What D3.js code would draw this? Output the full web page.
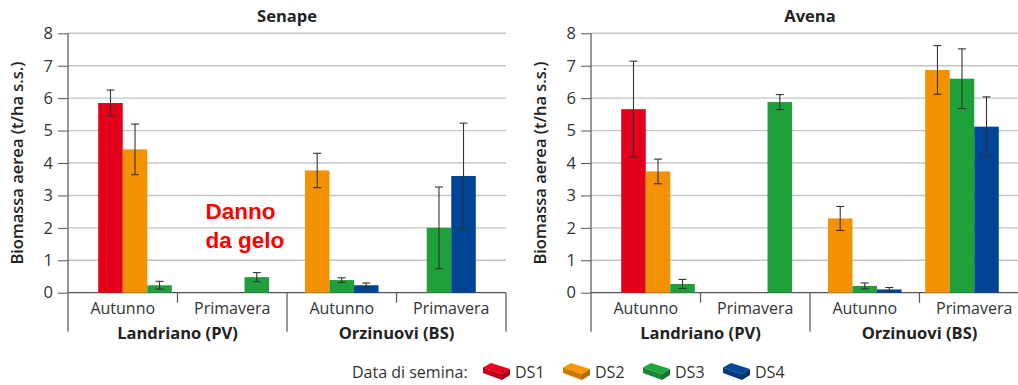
<!DOCTYPE html>
<html>
<head>
<meta charset="utf-8">
<script src="https://cdn.jsdelivr.net/npm/d3@7"></script>
<style>
  body { margin: 0; background: #fff; }
  svg { display: block; font-family: "Open Sans", sans-serif; }
</style>
</head>
<body>
<div id="chart"></div>
<script>
// categories
var seasons = ["Autunno", "Primavera", "Autunno", "Primavera"];
var sites = ["Landriano (PV)", "Orzinuovi (BS)"];
var series = ["DS1", "DS2", "DS3", "DS4"];
var yTicks = [0, 1, 2, 3, 4, 5, 6, 7, 8];

// how bars sit inside each season group ("-" = empty slot)
var groupSlots = [["-", "DS1", "DS2", "DS3"], ["-", "-", "DS3"], ["DS2", "DS3", "DS4"], ["DS2", "DS3", "DS4", "-"]];

// Senape (t/ha s.s.)
var senapeDS1 = [5.85, null, null, null];
var senapeDS2 = [4.42, null, 3.77, null];
var senapeDS3 = [0.23, 0.48, 0.39, 2.0];
var senapeDS4 = [null, null, 0.23, 3.6];
var senapeErr1 = [0.4, null, null, null];
var senapeErr2 = [0.78, null, 0.53, null];
var senapeErr3 = [0.12, 0.14, 0.07, 1.26];
var senapeErr4 = [null, null, 0.07, 1.63];

// Avena (t/ha s.s.)
var avenaDS1 = [5.66, null, null, null];
var avenaDS2 = [3.74, null, 2.29, 6.87];
var avenaDS3 = [0.27, 5.88, 0.21, 6.6];
var avenaDS4 = [null, null, 0.1, 5.12];
var avenaErr1 = [1.48, null, null, null];
var avenaErr2 = [0.38, null, 0.37, 0.75];
var avenaErr3 = [0.14, 0.23, 0.09, 0.92];
var avenaErr4 = [null, null, 0.06, 0.92];

var colors = {DS1: "#e2001a", DS2: "#f39200", DS3: "#1ea03a", DS4: "#004595"};

var svgWidth = 1018, svgHeight = 385;
var plotTop = 33.3, plotH = 259.4, plotW = 438;

var svg = d3.select("#chart").append("svg")
  .attr("width", svgWidth)
  .attr("height", svgHeight);

var y = d3.scaleLinear().domain([0, 8]).range([plotH, 0]);
var x0 = d3.scaleBand().domain(d3.range(seasons.length)).range([0, plotW]);
var barW = x0.bandwidth() * 0.224;

function drawPanel(left, title, vals, errs) {
  var g = svg.append("g").attr("transform", "translate(" + left + "," + plotTop + ")");

  // grid
  g.selectAll("line.grid")
    .data(yTicks.filter(function(d){ return d > 0; }))
    .enter().append("line")
    .attr("x1", 0).attr("x2", plotW)
    .attr("y1", function(d){ return y(d); })
    .attr("y2", function(d){ return y(d); })
    .attr("stroke", "#c4c4c4").attr("stroke-width", 1.4);

  // y axis
  var yAxis = d3.axisLeft(y).tickValues(yTicks).tickSize(10).tickPadding(5);
  var ya = g.append("g").call(yAxis);
  ya.select(".domain").remove();
  ya.selectAll("line").attr("stroke", "#555");
  ya.selectAll("text").attr("font-size", 16.5).attr("fill", "#333")
    .attr("font-family", "Open Sans, sans-serif");
  g.append("line").attr("x1", 0).attr("x2", 0).attr("y1", y(8)).attr("y2", plotH + 39)
    .attr("stroke", "#555").attr("stroke-width", 1.2);
  g.append("line").attr("x1", 0).attr("x2", plotW).attr("y1", plotH).attr("y2", plotH)
    .attr("stroke", "#555").attr("stroke-width", 1.2);

  // bars
  seasons.forEach(function(s, i) {
    var slots = groupSlots[i].map(function(k, j){ return k === "-" ? "blank" + j : k; });
    var gx = x0(i) + x0.bandwidth() / 2;
    var x1 = d3.scaleBand().domain(slots)
      .range([gx - slots.length * barW / 2, gx + slots.length * barW / 2]);
    var rows = series.map(function(name, k) {
      return {name: name, v: vals[k][i], e: errs[k][i]};
    }).filter(function(d){ return d.v != null && slots.indexOf(d.name) >= 0; });

    var bg = g.append("g");
    bg.selectAll("rect").data(rows).enter().append("rect")
      .attr("x", function(d){ return x1(d.name); })
      .attr("y", function(d){ return y(d.v); })
      .attr("width", x1.bandwidth())
      .attr("height", function(d){ return plotH - y(d.v); })
      .attr("fill", function(d){ return colors[d.name]; });

    var eb = bg.selectAll("g.err").data(rows.filter(function(d){ return d.e != null; }))
      .enter().append("g").attr("stroke", "#333").attr("stroke-width", 1.1);
    eb.append("line")
      .attr("x1", function(d){ return x1(d.name) + x1.bandwidth() / 2; })
      .attr("x2", function(d){ return x1(d.name) + x1.bandwidth() / 2; })
      .attr("y1", function(d){ return y(d.v + d.e); })
      .attr("y2", function(d){ return y(d.v - d.e); });
    [1, -1].forEach(function(sg) {
      eb.append("line")
        .attr("x1", function(d){ return x1(d.name) + x1.bandwidth() / 2 - 4; })
        .attr("x2", function(d){ return x1(d.name) + x1.bandwidth() / 2 + 4; })
        .attr("y1", function(d){ return y(d.v + sg * d.e); })
        .attr("y2", function(d){ return y(d.v + sg * d.e); });
    });
  });

  // category axis
  d3.range(1, seasons.length + 1).forEach(function(i) {
    var xx = i < seasons.length ? x0(i) : plotW;
    g.append("line").attr("x1", xx).attr("x2", xx)
      .attr("y1", plotH).attr("y2", i % 2 === 0 ? plotH + 39 : plotH + 10)
      .attr("stroke", "#555").attr("stroke-width", 1.2);
  });
  g.selectAll("text.season").data(seasons).enter().append("text")
    .attr("x", function(d, i){ return x0(i) + x0.bandwidth() / 2; })
    .attr("y", plotH + 21)
    .attr("text-anchor", "middle").attr("font-size", 16).attr("fill", "#333")
    .text(function(d){ return d; });
  g.selectAll("text.site").data(sites).enter().append("text")
    .attr("x", function(d, i){ return x0(i * 2) + x0.bandwidth(); })
    .attr("y", plotH + 46)
    .attr("text-anchor", "middle").attr("font-size", 16.5).attr("font-weight", 700)
    .attr("fill", "#222")
    .text(function(d){ return d; });

  // titles
  g.append("text").attr("x", plotW / 2).attr("y", -11)
    .attr("text-anchor", "middle").attr("font-size", 16.5).attr("font-weight", 700)
    .attr("fill", "#222").text(title);
  g.append("text")
    .attr("transform", "translate(" + (-45) + "," + (plotH / 2) + ") rotate(-90)")
    .attr("text-anchor", "middle").attr("font-size", 16.5).attr("font-weight", 600)
    .attr("fill", "#222").text("Biomassa aerea (t/ha s.s.)");
  return g;
}

var gL = drawPanel(68, "Senape",
  [senapeDS1, senapeDS2, senapeDS3, senapeDS4],
  [senapeErr1, senapeErr2, senapeErr3, senapeErr4]);
drawPanel(591, "Avena",
  [avenaDS1, avenaDS2, avenaDS3, avenaDS4],
  [avenaErr1, avenaErr2, avenaErr3, avenaErr4]);

// frost damage note
var noteX = x0(1) + 28;
var note = gL.append("text").attr("x", noteX).attr("y", y(2.26))
  .attr("font-family", "Liberation Sans, Arial, sans-serif")
  .attr("font-size", 22.5).attr("font-weight", 700).attr("fill", "#ff0000");
note.append("tspan").attr("x", noteX).text("Danno");
note.append("tspan").attr("x", noteX).attr("dy", 29).text("da gelo");

// legend
var legend = svg.append("g").attr("transform", "translate(352,372)");
legend.append("text").attr("x", 0).attr("y", 6).attr("font-size", 16).attr("fill", "#333")
  .text("Data di semina:");
var item = legend.selectAll("g.item").data(series).enter().append("g")
  .attr("transform", function(d, i){ return "translate(" + (131 + i * 80) + ",-9)"; });
function shade(c, k){ return d3.color(c).darker(k).toString(); }
item.append("polygon").attr("points", "0,4.5 8,0 27,6 19,11")
  .attr("fill", function(d){ return d3.color(colors[d]).brighter(0.1); });
item.append("polygon").attr("points", "0,4.5 19,11 19,17 0,10")
  .attr("fill", function(d){ return shade(colors[d], 0.5); });
item.append("polygon").attr("points", "19,11 27,6 27,12 19,17")
  .attr("fill", function(d){ return shade(colors[d], 0.9); });
item.append("text").attr("x", 32).attr("y", 15).attr("font-size", 16).attr("fill", "#333")
  .text(function(d){ return d; });
</script>
</body>
</html>
